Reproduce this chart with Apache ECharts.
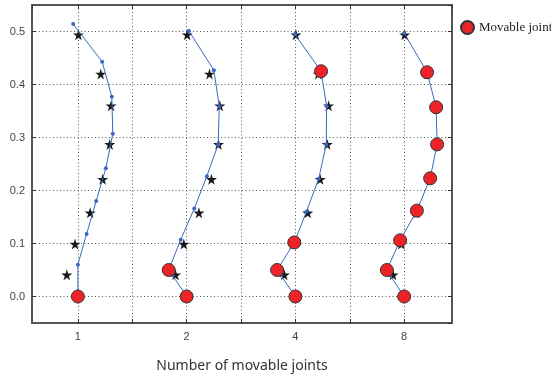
<!DOCTYPE html>
<html>
<head>
<meta charset="utf-8">
<script src="https://cdn.jsdelivr.net/npm/echarts@6/dist/echarts.min.js"></script>
<style>
  html, body { margin: 0; padding: 0; background: #fff; }
  #chart { width: 551px; height: 378px; }
</style>
</head>
<body>
<div id="chart"></div>
<script>
// x categories (number of movable joints), plotted at index 0..3
const jointCounts = ['1', '2', '4', '8'];

// blue path of each group: x offset from the group centre, y value
const path1X = [-0.043, 0.223, 0.312, 0.321, 0.257, 0.168, 0.080, 0.000, 0.000];
const path1Y = [0.514, 0.443, 0.377, 0.307, 0.242, 0.180, 0.118, 0.060, 0.000];
const path2X = [0.021, 0.250, 0.300, 0.290, 0.186, 0.070, -0.055, -0.165, -0.130, 0.000];
const path2Y = [0.501, 0.427, 0.359, 0.287, 0.227, 0.166, 0.107, 0.050, 0.040, 0.000];
const path3X = [-0.006, 0.236, 0.287, 0.284, 0.214, 0.101, -0.010, -0.168, -0.134, 0.000];
const path3Y = [0.495, 0.425, 0.359, 0.287, 0.222, 0.160, 0.102, 0.050, 0.040, 0.000];
const path4X = [0.000, 0.211, 0.294, 0.303, 0.239, 0.117, -0.037, -0.159, -0.130, 0.000];
const path4Y = [0.497, 0.423, 0.357, 0.287, 0.223, 0.162, 0.106, 0.050, 0.040, 0.000];

// which path points are movable joints (red)
const movable1 = [8];
const movable2 = [7, 9];
const movable3 = [1, 6, 7, 9];
const movable4 = [1, 2, 3, 4, 5, 6, 7, 9];

// target points (stars), same in every group
const targetX = [0.005, 0.210, 0.305, 0.293, 0.228, 0.113, -0.026, -0.102];
const targetY = [0.494, 0.420, 0.360, 0.287, 0.221, 0.158, 0.099, 0.041];

const pathsX = [path1X, path2X, path3X, path4X];
const pathsY = [path1Y, path2Y, path3Y, path4Y];
const movables = [movable1, movable2, movable3, movable4];

const STAR = 'path://M50,0 L61,35 L98,35 L68,57 L79,91 L50,70 L21,91 L32,57 L2,35 L39,35 Z';
const axisColor = '#555';

const series = [];

// stars
const starData = [];
jointCounts.forEach((c, g) => {
    targetX.forEach((dx, i) => starData.push([g + dx, targetY[i]]));
});
series.push({
    name: 'target',
    type: 'scatter',
    symbol: STAR,
    symbolSize: 11,
    itemStyle: { color: '#1a1a1a', opacity: 1 },
    data: starData,
    z: 2
});

// blue paths
pathsX.forEach((px, g) => {
    series.push({
        name: 'path' + g,
        type: 'line',
        symbol: 'circle',
        symbolSize: 4,
        showAllSymbol: true,
        lineStyle: { color: '#3a68c0', width: 1 },
        itemStyle: { color: '#3a68c0' },
        data: px.map((dx, i) => [g + dx, pathsY[g][i]]),
        z: 3
    });
});

// red movable joints
const redData = [];
movables.forEach((idx, g) => {
    idx.forEach(i => redData.push([g + pathsX[g][i], pathsY[g][i]]));
});
series.push({
    name: 'Movable joint',
    type: 'scatter',
    symbol: 'circle',
    symbolSize: 13,
    itemStyle: { color: '#ec2327', borderColor: '#333', borderWidth: 1, opacity: 1 },
    data: redData,
    z: 4
});

const xMin = -0.422, xMax = 3.44;
const yMin = -0.05, yMax = 0.55;

const splitDots = { show: true, lineStyle: { color: '#555', type: [1, 2.5], width: 1 } };
const frameLine = { show: true, onZero: false, lineStyle: { color: axisColor, width: 2 } };
const innerTick = { show: true, inside: true, length: 4, lineStyle: { color: '#333' } };

const chart = echarts.init(document.getElementById('chart'));
chart.setOption({
    animation: false,
    grid: { left: 32, right: 99, top: 5, bottom: 47 },
    legend: {
        data: ['Movable joint'],
        left: 455,
        top: 15,
        icon: 'circle',
        itemWidth: 13,
        itemHeight: 13,
        itemGap: 5,
        textStyle: { fontFamily: 'Liberation Serif', fontSize: 13, color: '#222' }
    },
    xAxis: [
        {
            type: 'value',
            min: xMin,
            max: xMax,
            minInterval: 0.5,
            maxInterval: 0.5,
            name: 'Number of movable joints',
            nameLocation: 'middle',
            nameGap: 36,
            nameTextStyle: { fontFamily: 'Noto Sans', fontSize: 14, color: '#333' },
            axisLine: frameLine,
            axisTick: innerTick,
            axisLabel: {
                showMinLabel: false,
                showMaxLabel: false,
                margin: 8,
                color: '#444',
                fontFamily: 'Liberation Sans',
                fontSize: 11,
                formatter: v => (Math.abs(v - Math.round(v)) < 1e-6 && jointCounts[Math.round(v)]) || ''
            },
            splitLine: splitDots
        },
        {
            type: 'value',
            position: 'top',
            min: xMin,
            max: xMax,
            minInterval: 0.5,
            maxInterval: 0.5,
            axisLine: frameLine,
            axisTick: innerTick,
            axisLabel: { show: false },
            splitLine: { show: false }
        }
    ],
    yAxis: [
        {
            type: 'value',
            min: yMin,
            max: yMax,
            minInterval: 0.1,
            maxInterval: 0.1,
            axisLine: frameLine,
            axisTick: innerTick,
            axisLabel: {
                showMinLabel: false,
                showMaxLabel: false,
                margin: 7,
                color: '#444',
                fontFamily: 'Liberation Sans',
                fontSize: 11,
                formatter: v => v.toFixed(1)
            },
            splitLine: splitDots
        },
        {
            type: 'value',
            position: 'right',
            min: yMin,
            max: yMax,
            minInterval: 0.1,
            maxInterval: 0.1,
            axisLine: frameLine,
            axisTick: innerTick,
            axisLabel: { show: false },
            splitLine: { show: false }
        }
    ],
    series: series
});
</script>
</body>
</html>
